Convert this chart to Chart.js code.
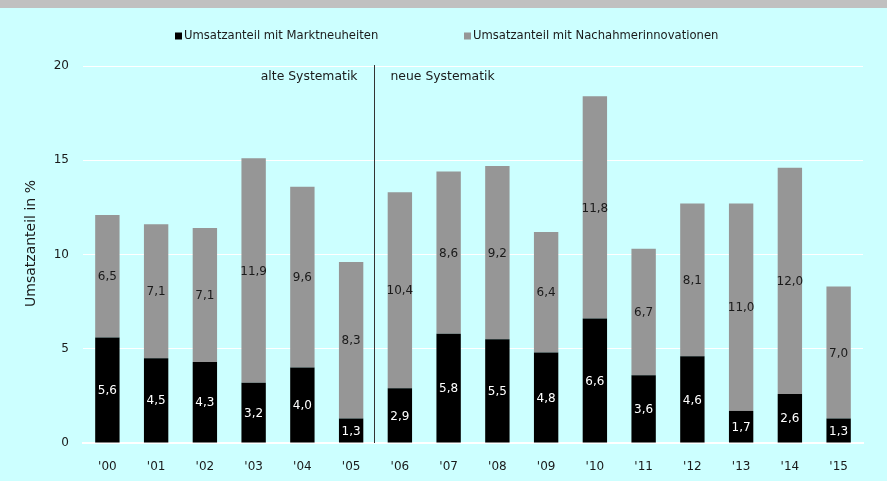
<!DOCTYPE html>
<html><head><meta charset="utf-8">
<script src="https://cdn.jsdelivr.net/npm/chart.js@4/dist/chart.umd.min.js"></script>
<style>html,body{margin:0;padding:0;background:#ccffff;overflow:hidden}</style>
</head><body>
<canvas id="c" width="887" height="481"></canvas>
<script>
const categories = ["'00","'01","'02","'03","'04","'05","'06","'07","'08","'09","'10","'11","'12","'13","'14","'15"];
const marktneuheiten = [5.6,4.5,4.3,3.2,4.0,1.3,2.9,5.8,5.5,4.8,6.6,3.6,4.6,1.7,2.6,1.3];
const nachahmer = [6.5,7.1,7.1,11.9,9.6,8.3,10.4,8.6,9.2,6.4,11.8,6.7,8.1,11.0,12.0,7.0];
const seriesLabels = ['Umsatzanteil mit Marktneuheiten','Umsatzanteil mit Nachahmerinnovationen'];
const seriesColors = ['#000000','#969696'];
const valueLabelColors = ['#ffffff','#1a1a1a'];
const yMin = 0, yMax = 20, yStep = 5;
const yTitle = 'Umsatzanteil in %';
const sectionLabels = ['alte Systematik','neue Systematik'];
const splitAfterIndex = 5;

const FONT = '"DejaVu Sans", Verdana, sans-serif';
const fmt = v => v.toFixed(1).replace('.', ',');

const bgPlugin = {
  id: 'bg',
  beforeDraw(chart) {
    const ctx = chart.ctx;
    ctx.save();
    ctx.fillStyle = '#ccffff';
    ctx.fillRect(0, 0, chart.width, chart.height);
    ctx.fillStyle = '#c0c0c0';
    ctx.fillRect(0, 0, chart.width, 8);
    ctx.restore();
  }
};

const overlayPlugin = {
  id: 'overlay',
  afterDatasetsDraw(chart) {
    const ctx = chart.ctx;
    const x = chart.scales.x, y = chart.scales.y;
    const ca = chart.chartArea;
    ctx.save();
    // value labels
    ctx.font = '12px ' + FONT;
    ctx.textAlign = 'center';
    ctx.textBaseline = 'middle';
    chart.data.datasets.forEach((ds, di) => {
      const meta = chart.getDatasetMeta(di);
      meta.data.forEach((bar, i) => {
        const cy = (bar.y + bar.base) / 2;
        ctx.fillStyle = valueLabelColors[di];
        ctx.fillText(fmt(ds.data[i]), bar.x, cy + 1);
      });
    });
    // separator
    const sx = Math.round((x.getPixelForValue(splitAfterIndex) + x.getPixelForValue(splitAfterIndex + 1)) / 2) - 2 + 0.5;
    ctx.strokeStyle = '#333333';
    ctx.lineWidth = 1;
    ctx.beginPath();
    ctx.moveTo(sx, y.getPixelForValue(yMax) - 1);
    ctx.lineTo(sx, y.getPixelForValue(yMin));
    ctx.stroke();
    ctx.fillStyle = '#1a1a1a';
    ctx.font = '12.4px ' + FONT;
    ctx.textBaseline = 'middle';
    ctx.textAlign = 'right';
    ctx.fillText(sectionLabels[0], sx - 17, ca.top + 11);
    ctx.textAlign = 'left';
    ctx.fillText(sectionLabels[1], sx + 16, ca.top + 11);
    // y axis title
    ctx.save();
    ctx.translate(31, (ca.top + ca.bottom) / 2 - 11);
    ctx.rotate(-Math.PI / 2);
    ctx.textAlign = 'center';
    ctx.textBaseline = 'middle';
    ctx.font = '14px ' + FONT;
    ctx.fillStyle = '#1a1a1a';
    ctx.fillText(yTitle, 0, 0);
    ctx.restore();
    // legend
    ctx.font = '11.6px ' + FONT;
    ctx.textAlign = 'left';
    ctx.textBaseline = 'middle';
    const legendStarts = [175, 464];
    const ly = 36;
    chart.data.datasets.forEach((ds, di) => {
      const lx = legendStarts[di];
      ctx.fillStyle = ds.backgroundColor;
      ctx.fillRect(lx, ly - 3.5, 7, 7);
      ctx.fillStyle = '#1a1a1a';
      ctx.fillText(ds.label, lx + 9, ly);
    });
    ctx.restore();
  }
};

new Chart(document.getElementById('c'), {
  type: 'bar',
  data: {
    labels: categories,
    datasets: [
      { label: seriesLabels[0], data: marktneuheiten, backgroundColor: seriesColors[0], barPercentage: 0.5, categoryPercentage: 1 },
      { label: seriesLabels[1], data: nachahmer, backgroundColor: seriesColors[1], barPercentage: 0.5, categoryPercentage: 1 }
    ]
  },
  options: {
    responsive: false,
    devicePixelRatio: 1,
    animation: false,
    layout: { padding: { top: 66, right: 24, left: 0, bottom: 0 } },
    plugins: { legend: { display: false }, tooltip: { enabled: false } },
    scales: {
      x: {
        stacked: true,
        grid: { display: false },
        border: { display: true, color: '#ffffff', width: 2 },
        ticks: { color: '#1a1a1a', font: { family: FONT, size: 12 }, padding: 9, maxRotation: 0 },
        afterFit(s) { s.height = 38; }
      },
      y: {
        stacked: true,
        min: yMin, max: yMax,
        grid: { color: '#ffffff', lineWidth: 1, drawTicks: false },
        border: { display: false },
        ticks: { stepSize: yStep, color: '#1a1a1a', font: { family: FONT, size: 12 }, padding: 14 },
        title: { display: false, text: yTitle },
        afterFit(s) { s.width = 83; }
      }
    }
  },
  plugins: [bgPlugin, overlayPlugin]
});
</script>
</body></html>
